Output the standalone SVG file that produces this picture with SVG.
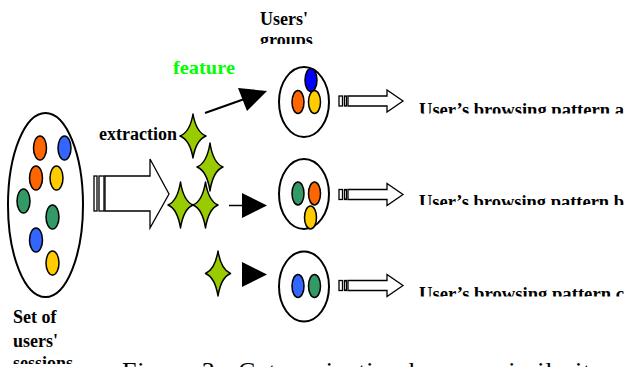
<svg xmlns="http://www.w3.org/2000/svg" width="624" height="367" viewBox="0 0 624 367">
<style>
.lbl{font-family:"Liberation Serif","Times New Roman",serif;font-weight:bold;font-size:18px;fill:#000}
.cap{font-family:"Liberation Serif","Times New Roman",serif;font-size:26px;fill:#000}
.ring{fill:#fff;stroke:#000;stroke-width:2}
.dot{stroke:#000;stroke-width:1.5}
.or{fill:#FF6600}.bl{fill:#3366FF}.db{fill:#0000FF}.ye{fill:#FFCC00}.gr{fill:#339966}
.star{fill:#99CC00;stroke:#000;stroke-width:1.5;stroke-linejoin:round}
.hollow{fill:#fff;stroke:#000;stroke-width:1.3;stroke-linejoin:miter}
.solid{fill:#000;stroke:none}
</style>
<defs>
<clipPath id="cGroups"><rect x="0" y="0" width="624" height="44"/></clipPath>
<clipPath id="cSess"><rect x="0" y="0" width="624" height="364"/></clipPath>
<clipPath id="cA"><rect x="0" y="0" width="624" height="113.5"/></clipPath>
<clipPath id="cB"><rect x="0" y="0" width="624" height="205"/></clipPath>
<clipPath id="cC"><rect x="0" y="0" width="624" height="296.5"/></clipPath>
<g id="smallArrow">
<rect x="339" y="-5" width="3.5" height="10" class="hollow"/>
<rect x="344.5" y="-5" width="2" height="10" class="hollow"/>
<path d="M348,-5 H387 V-11 L403,0 L387,11 V5 H348 Z" class="hollow"/>
</g>
</defs>

<g id="sessions">
<ellipse cx="45.5" cy="205" rx="37.5" ry="92" class="ring"/>
<ellipse cx="40" cy="148" rx="6.5" ry="12" class="dot or"/>
<ellipse cx="64.5" cy="148" rx="6.5" ry="12" class="dot bl"/>
<ellipse cx="36" cy="178" rx="6.5" ry="12" class="dot or"/>
<ellipse cx="56.5" cy="178" rx="6.5" ry="12" class="dot ye"/>
<ellipse cx="23.5" cy="201" rx="6.5" ry="12" class="dot gr"/>
<ellipse cx="52.5" cy="217" rx="6.5" ry="12" class="dot gr"/>
<ellipse cx="36" cy="240" rx="6.5" ry="12" class="dot bl"/>
<ellipse cx="52.5" cy="263" rx="6.5" ry="12" class="dot ye"/>
<text class="lbl" x="13" y="323">Set of</text>
<text class="lbl" x="13" y="347">users'</text>
<text class="lbl" x="13" y="369" clip-path="url(#cSess)">sessions</text>
</g>

<g id="bigArrow">
<rect x="94" y="176" width="3" height="35" class="hollow"/>
<rect x="99" y="176" width="5" height="35" class="hollow"/>
<path d="M105,176 H150 V159 L169,194 L150,228 V211 H105 Z" class="hollow"/>
</g>

<g id="featureExtraction">
<text class="lbl" x="173" y="73.5" fill="#00FF00" style="fill:#00FF00;font-size:19px" textLength="62" lengthAdjust="spacingAndGlyphs">feature</text>
<text class="lbl" x="99" y="140" textLength="78" lengthAdjust="spacingAndGlyphs">extraction</text>
<path class="star" d="M193,114 Q196,132 206,136 Q196,140 193,158 Q190,140 180,136 Q190,132 193,114 Z"/>
<path class="star" d="M205.5,182 Q208.5,201 218,205 Q208.5,209 205.5,228 Q202.5,209 193,205 Q202.5,201 205.5,182 Z"/>
<path class="star" d="M210,143 Q213,163 223,167 Q213,171 210,191 Q207,171 197,167 Q207,163 210,143 Z"/>
<path class="star" d="M180.5,182 Q183.5,201 193,205 Q183.5,209 180.5,228 Q177.5,209 168,205 Q177.5,201 180.5,182 Z"/>
<path class="star" d="M218,251 Q221,269.5 230.5,273.5 Q221,277.5 218,296 Q215,277.5 205.5,273.5 Q215,269.5 218,251 Z"/>
</g>

<g id="groupsLabel">
<text class="lbl" x="260" y="25">Users'</text>
<text class="lbl" x="260" y="46" clip-path="url(#cGroups)">groups</text>
</g>

<g id="group-a">
<ellipse cx="304" cy="102" rx="25" ry="35" class="ring"/>
<ellipse cx="311" cy="80" rx="6" ry="11.5" class="dot db"/>
<ellipse cx="298" cy="102" rx="6" ry="11.5" class="dot or"/>
<ellipse cx="314.5" cy="102" rx="6" ry="11.5" class="dot ye"/>
</g>
<g id="group-b">
<ellipse cx="304" cy="194" rx="25" ry="35" class="ring"/>
<ellipse cx="298" cy="193.5" rx="6" ry="11.5" class="dot gr"/>
<ellipse cx="314.5" cy="193.5" rx="6" ry="11.5" class="dot or"/>
<ellipse cx="310.5" cy="217.5" rx="6" ry="11.5" class="dot ye"/>
</g>
<g id="group-c">
<ellipse cx="304" cy="286.5" rx="25" ry="35" class="ring"/>
<ellipse cx="298" cy="286" rx="6" ry="11.5" class="dot bl"/>
<ellipse cx="314.5" cy="286" rx="6" ry="11.5" class="dot gr"/>
</g>

<g id="connectors">
<line x1="205" y1="113" x2="243" y2="99.5" stroke="#000" stroke-width="2"/>
<polygon class="solid" points="267,91 238,88 247,111"/>
<line x1="229" y1="205.5" x2="244" y2="205.5" stroke="#000" stroke-width="1.5"/>
<polygon class="solid" points="242,193 242,218 267,205.5"/>
<polygon class="solid" points="242,262 242,287 267,274.5"/>
<use href="#smallArrow" transform="translate(0,101)"/>
<use href="#smallArrow" transform="translate(0,194.5)"/>
<use href="#smallArrow" transform="translate(0,285.5)"/>
</g>

<g id="pattern-a"><text class="lbl" x="419" y="115.5" clip-path="url(#cA)" textLength="205" lengthAdjust="spacingAndGlyphs">User’s browsing pattern a</text></g>
<g id="pattern-b"><text class="lbl" x="419" y="208" clip-path="url(#cB)" textLength="205" lengthAdjust="spacingAndGlyphs">User’s browsing pattern b</text></g>
<g id="pattern-c"><text class="lbl" x="419" y="299.5" clip-path="url(#cC)" textLength="205" lengthAdjust="spacingAndGlyphs">User’s browsing pattern c</text></g>

<text class="cap" x="122" y="380" textLength="482" lengthAdjust="spacing">Figure 3 : Categorization by user similarity</text>
</svg>
